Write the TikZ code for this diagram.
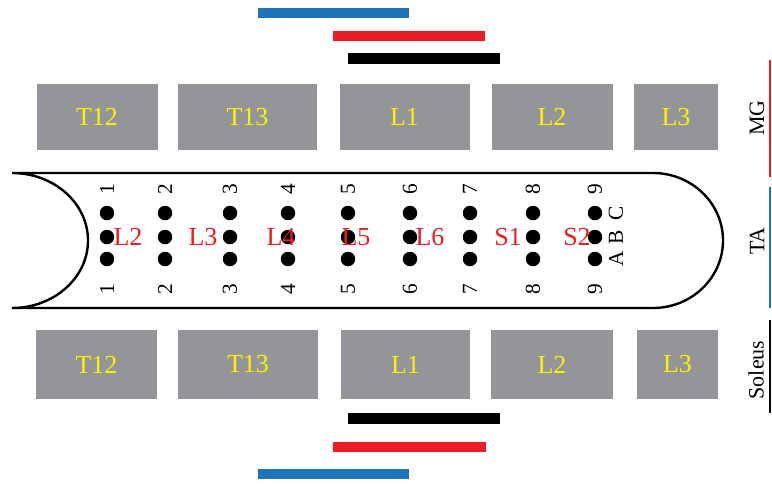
\documentclass[tikz,border=0pt]{standalone}
\usepackage{fontspec}
\setmainfont{Liberation Serif}
\definecolor{boxgray}{HTML}{939598}
\definecolor{lblyellow}{HTML}{FFF200}
\definecolor{mred}{HTML}{ED1C24}
\definecolor{mblue}{HTML}{1C75BC}
\tikzset{
  seg/.style 2 args={fill=boxgray, text=lblyellow, inner sep=0pt,
    minimum width=#1*0.75pt, minimum height=#2*0.75pt,
    font=\fontsize{19.5}{19.5}\selectfont},
  bar/.style 2 args={fill=#1, inner sep=0pt, minimum width=#2*0.75pt,
    minimum height=10.5*0.75pt},
  dot/.style={circle, fill=black, inner sep=0pt, minimum size=14.5*0.75pt},
  num/.style={rotate=90, inner sep=0pt, font=\fontsize{16}{16}\selectfont},
  level/.style={text=mred, inner sep=0pt, font=\fontsize{19.5}{19.5}\selectfont},
  muscle/.style={rotate=90, inner sep=0pt, font=\fontsize{16.5}{16.5}\selectfont},
  capsule/.style={line width=1.8pt},
  mline/.style={line width=1.8pt},
}
\begin{document}
\begin{tikzpicture}[x=0.75pt,y=-0.75pt]
\useasboundingbox (0,0) rectangle (772,483);

% electrode bars above
\node[bar={mblue}{151}]  (tbblue)  at (333.5,13)  {};
\node[bar={mred}{152}]   (tbred)   at (409,36)    {};
\node[bar={black}{152}]  (tbblack) at (424,58.5)  {};

% vertebrae, upper row
\node[seg={121}{66}] (ut12) at (97,117)    {T12};
\node[seg={139}{66}] (ut13) at (247.5,117) {T13};
\node[seg={130}{66}] (ul1)  at (404.5,117) {L1};
\node[seg={121}{66}] (ul2)  at (552,117)   {L2};
\node[seg={84}{66}]  (ul3)  at (676,117)   {L3};

% vertebrae, lower row
\node[seg={121}{69}] (lt12) at (96.5,364.5)  {T12};
\node[seg={140}{69}] (lt13) at (248,364.5)   {T13};
\node[seg={129}{69}] (ll1)  at (405.5,364.5) {L1};
\node[seg={122}{69}] (ll2)  at (552,364.5)   {L2};
\node[seg={81}{69}]  (ll3)  at (677.5,364.5) {L3};

% electrode bars below
\node[bar={black}{152}]  (bbblack) at (424,418.5) {};
\node[bar={mred}{153}]   (bbred)   at (409.5,447) {};
\node[bar={mblue}{151}]  (bbblue)  at (333.5,474) {};

% spinal cord outline
\draw[capsule] (12,173) -- (653,173)
  arc[start angle=-90, end angle=90, x radius=70, y radius=67.5]
  -- (12,308)
  arc[start angle=90, end angle=-90, x radius=76, y radius=67.5];

% electrode grid with column numbers
\foreach \c/\x in {1/107,2/165,3/230,4/288,5/348,6/410,7/470,8/533,9/595}{
  \foreach \r/\y in {a/259,b/237,c/213}
    \node[dot] (d\c\r) at (\x,\y) {};
  \node[num] (nt\c) at (\x,189) {\c};
  \node[num] (nb\c) at (\x,289) {\c};
}
\node[num] (rowa) at (616,259) {A};
\node[num] (rowb) at (616,237) {B};
\node[num] (rowc) at (616,213) {C};

% spinal levels
\node[level] (sl2) at (128,237) {L2};
\node[level] (sl3) at (203,237) {L3};
\node[level] (sl4) at (281,237) {L4};
\node[level] (sl5) at (356,237) {L5};
\node[level] (sl6) at (430,237) {L6};
\node[level] (ss1) at (508,237) {S1};
\node[level] (ss2) at (577,237) {S2};

% muscle legend
\coordinate (mgtop) at (770,60);   \coordinate (mgbot) at (770,177);
\coordinate (tatop) at (770,187);  \coordinate (tabot) at (770,308);
\coordinate (sotop) at (770,320);  \coordinate (sobot) at (770,413);
\draw[mline, mred]  (mgtop) -- (mgbot);
\draw[mline, mblue] (tatop) -- (tabot);
\draw[mline, black] (sotop) -- (sobot);
\node[muscle] (mg) at (757,118) {MG};
\node[muscle] (ta) at (757,241) {TA};
\node[muscle] (so) at (756,370) {Soleus};
\end{tikzpicture}
\end{document}
